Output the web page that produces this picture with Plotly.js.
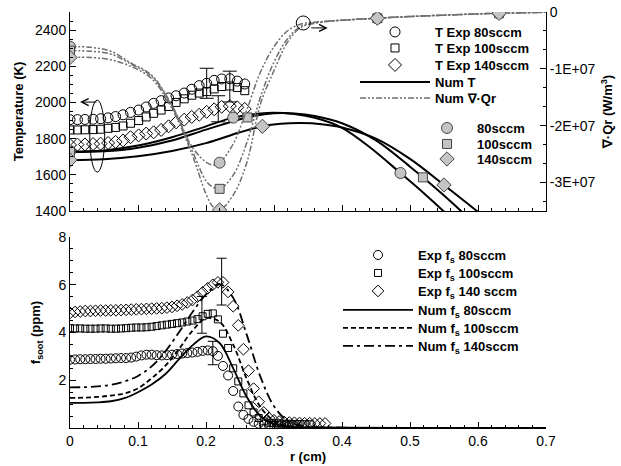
<!DOCTYPE html>
<html><head><meta charset="utf-8">
<script src="https://cdn.plot.ly/plotly-3.0.1.min.js"></script>
<style>html,body{margin:0;padding:0;background:#fff}#chart{width:621px;height:466px}</style>
</head><body><div id="chart"></div>
<script>
// ---------- Top panel: experimental temperature ----------
const rTexp = [0,0.011,0.022,0.034,0.045,0.056,0.067,0.078,0.089,0.101,0.112,0.123,0.134,0.145,0.156,0.168,0.179,0.190,0.201,0.212,0.223,0.235,0.246,0.257];
const tExp80  = [1905,1905,1906,1907,1910,1915,1922,1932,1945,1958,1975,1995,2010,2025,2037,2052,2073,2093,2106,2122,2130,2131,2118,2102];
const tExp100 = [1848,1848,1849,1850,1852,1857,1862,1870,1885,1900,1920,1940,1958,1978,2000,2020,2040,2052,2060,2075,2088,2091,2083,2065];
const tExp140 = [1765,1767,1768,1770,1772,1776,1782,1790,1808,1818,1828,1835,1848,1868,1890,1905,1920,1932,1948,1962,1976,1980,1973,1964];
const tErrR = [0.201,0.218,0.235];
const tErrV = [2106,1965,2088];
const tErrE = [83,72,85];

// ---------- Top panel: numerical temperature ----------
const rNumT80  = [0,0.05,0.1,0.15,0.2,0.24,0.28,0.3,0.33,0.36,0.4,0.44,0.486,0.52,0.549,0.6];
const numT80   = [1728,1735,1762,1808,1868,1916,1939,1943,1936,1915,1860,1755,1610,1500,1400,1215];
const rNumT100 = [0,0.05,0.1,0.15,0.2,0.261,0.3,0.33,0.36,0.4,0.45,0.5,0.519,0.55,0.58,0.62];
const numT100  = [1726,1730,1750,1790,1850,1917,1940,1939,1925,1885,1790,1645,1586,1485,1383,1245];
const rNumT140 = [0,0.05,0.1,0.15,0.2,0.25,0.283,0.31,0.34,0.37,0.4,0.45,0.5,0.55,0.6,0.65];
const numT140  = [1682,1686,1703,1732,1775,1835,1868,1882,1886,1880,1862,1800,1688,1544,1395,1245];

// ---------- Top panel: numerical divergence of radiative flux ----------
const rQr = [0,0.03,0.06,0.09,0.12,0.15,0.18,0.2,0.21,0.22,0.24,0.26,0.28,0.3,0.32,0.34,0.37,0.4,0.45,0.5,0.55,0.6,0.63,0.7];
const qr80  = [-6.1e6,-6.2e6,-6.9e6,-9.0e6,-1.11e7,-1.64e7,-2.38e7,-2.64e7,-2.69e7,-2.65e7,-2.32e7,-1.72e7,-1.06e7,-6.1e6,-3.3e6,-2.1e6,-1.7e6,-1.45e6,-1.1e6,-8.0e5,-5.5e5,-3.3e5,-2.3e5,-5e4];
const qr100 = [-6.8e6,-6.9e6,-7.4e6,-9.2e6,-1.13e7,-1.66e7,-2.45e7,-2.97e7,-3.08e7,-3.11e7,-2.87e7,-2.3e7,-1.5e7,-8.8e6,-4.7e6,-2.5e6,-1.75e6,-1.45e6,-1.1e6,-8.0e5,-5.5e5,-3.3e5,-2.3e5,-5e4];
const qr140 = [-8.0e6,-8.0e6,-8.4e6,-9.6e6,-1.17e7,-1.7e7,-2.52e7,-3.2e7,-3.42e7,-3.48e7,-3.22e7,-2.65e7,-1.62e7,-1.03e7,-5.3e6,-2.7e6,-1.8e6,-1.45e6,-1.1e6,-8.0e5,-5.5e5,-3.3e5,-2.3e5,-5e4];
// identification markers (grey)
const rQrMk = [0,0.22,0.452,0.631];
const qrMk80  = [-6.1e6,-2.65e7,-1.1e6,-2.3e5];
const qrMk100 = [-6.8e6,-3.11e7,-1.1e6,-2.3e5];
const qrMk140 = [-8.0e6,-3.48e7,-1.1e6,-2.3e5];
const rTMk80  = [0,0.24,0.486];   const tMk80  = [1728,1916,1610];
const rTMk100 = [0,0.261,0.519];  const tMk100 = [1726,1917,1586];
const rTMk140 = [0,0.283,0.55];   const tMk140 = [1682,1868,1544];

// ---------- Bottom panel: soot volume fraction ----------
const rFs = [0,0.0075,0.015,0.0225,0.03,0.0375,0.045,0.0525,0.06,0.0675,0.075,0.0825,0.09,0.0975,0.105,0.1125,0.12,0.1275,0.135,0.1425,0.15,0.1575,0.165,0.1725,0.18,0.1875,0.195,0.2025,0.21,0.2175,0.225,0.2325,0.24,0.2475,0.255,0.2625,0.27,0.2775,0.285,0.2925,0.3,0.3075,0.315,0.3225,0.33,0.3375,0.345,0.3525,0.36,0.3675,0.375];
const fsExp80  = [2.86,2.87,2.88,2.88,2.89,2.89,2.90,2.90,2.91,2.92,2.93,2.93,2.95,2.99,3.04,3.07,3.07,3.05,3.04,3.05,3.07,3.10,3.12,3.14,3.16,3.19,3.23,3.25,3.22,3.02,2.60,2.20,1.55,0.90,0.55,0.38,0.26,0.18,0.14,0.12,0.10,0.10,0.09,0.09,0.08];
const fsExp100 = [4.18,4.17,4.17,4.16,4.16,4.16,4.17,4.17,4.16,4.16,4.17,4.18,4.20,4.21,4.21,4.22,4.24,4.27,4.30,4.33,4.36,4.39,4.42,4.46,4.50,4.56,4.68,4.78,4.80,4.55,3.95,3.35,2.50,1.95,1.45,0.95,0.65,0.42,0.28,0.22,0.20,0.19,0.18,0.18,0.17,0.17,0.16,0.16];
const fsExp140 = [4.82,4.86,4.88,4.90,4.90,4.91,4.92,4.92,4.93,4.93,4.94,4.95,4.96,4.97,4.98,4.99,5.00,5.01,5.02,5.04,5.07,5.12,5.18,5.26,5.36,5.50,5.68,5.85,6.00,6.10,6.10,5.70,5.10,4.30,3.30,2.40,1.65,1.10,0.65,0.42,0.32,0.27,0.25,0.23,0.22,0.21,0.20,0.20,0.19,0.19,0.19];
const fsErrR = [0.194,0.21,0.223];
const fsErrV = [4.74,3.14,6.13];
const fsErrE = [0.77,0.49,0.98];
const rFsNum = [0,0.02,0.04,0.06,0.08,0.1,0.12,0.14,0.16,0.18,0.2,0.22,0.24,0.26,0.28,0.3,0.32,0.34,0.36,0.4,0.5,0.7];
const fsNum80  = [1.05,1.05,1.07,1.12,1.25,1.50,1.82,2.25,2.87,3.46,3.84,3.56,2.50,1.30,0.49,0.17,0.07,0.03,0.02,0.01,0,0];
const fsNum100 = [1.26,1.27,1.30,1.36,1.45,1.66,2.08,2.60,3.30,4.07,4.60,4.45,3.49,2.05,0.88,0.30,0.09,0.03,0.02,0.01,0,0];
const fsNum140 = [1.70,1.71,1.74,1.81,1.95,2.18,2.58,3.20,4.00,4.85,5.60,6.03,5.45,3.90,2.15,0.91,0.30,0.10,0.04,0.01,0,0];

// ---------- text ----------
const legendTop = ['T Exp 80sccm','T Exp 100sccm','T Exp 140sccm','Num T','Num ∇·Qr'];
const legendGrey = ['80sccm','100sccm','140sccm'];
const legendBot = ['Exp f<sub>s</sub> 80sccm','Exp f<sub>s</sub> 100sccm','Exp f<sub>s</sub> 140 sccm','Num f<sub>s</sub> 80sccm','Num f<sub>s</sub> 100sccm','Num f<sub>s</sub> 140sccm'];
const yTicksR = [0,-1e7,-2e7,-3e7];
const yTicksRText = ['0','-1E+07','-2E+07','-3E+07'];

// ---------- geometry helpers (pixel -> paper) ----------
const PL=70, PR=546, PT=12, PB=428;
const pxX = v => (v-PL)/(PR-PL);
const pxY = v => (PB-v)/(PB-PT);
const FONT = 'Liberation Sans, Arial, Helvetica, sans-serif';
const GREY = '#6e6e6e';
const GFILL = '#c4c4c4';

const traces = [];
const qrDash = '6px,2px,2px,2px,2px,2px';
[[qr80,true],[qr100,false],[qr140,false]].forEach(([v,show]) => traces.push({
  x:rQr, y:v, xaxis:'x', yaxis:'y2', mode:'lines', line:{color:GREY,width:1.5,dash:qrDash,shape:'spline'},
  name:legendTop[4], showlegend:show, legend:'legend5'}));
[[rNumT80,numT80,true],[rNumT100,numT100,false],[rNumT140,numT140,false]].forEach(([r,v,show]) => traces.push({
  x:r, y:v, xaxis:'x', yaxis:'y', mode:'lines', line:{color:'#000',width:2,shape:'spline'},
  name:legendTop[3], showlegend:show, legend:'legend4'}));
const openMk = (sym,size) => ({symbol:sym, size:size, color:'#000', line:{width:1,color:'#000'}});
traces.push({x:rTexp,y:tExp80,xaxis:'x',yaxis:'y',mode:'markers',marker:openMk('circle-open',10),name:legendTop[0],legend:'legend'});
traces.push({x:rTexp,y:tExp100,xaxis:'x',yaxis:'y',mode:'markers',marker:openMk('square-open',8),name:legendTop[1],legend:'legend2'});
traces.push({x:rTexp,y:tExp140,xaxis:'x',yaxis:'y',mode:'markers',marker:openMk('diamond-open',10),name:legendTop[2],legend:'legend3'});
traces.push({x:tErrR,y:tErrV,xaxis:'x',yaxis:'y',mode:'markers',marker:{opacity:0,size:2},showlegend:false,
  error_y:{type:'data',array:tErrE,visible:true,color:'#000',thickness:1,width:7}});
const greyMk = (sym,size) => ({symbol:sym,size:size,color:GFILL,line:{width:1,color:'#444'}});
[[rTMk80,tMk80,'circle',11],[rTMk100,tMk100,'square',9],[rTMk140,tMk140,'diamond',11]].forEach(([r,v,s,z]) => traces.push({
  x:r,y:v,xaxis:'x',yaxis:'y',mode:'markers',marker:greyMk(s,z),showlegend:false}));
[[qrMk80,'circle',11,'legend6',0],[qrMk100,'square',9,'legend7',1],[qrMk140,'diamond',11,'legend8',2]].forEach(([v,s,z,lg,i]) => traces.push({
  x:rQrMk,y:v,xaxis:'x',yaxis:'y2',mode:'markers',marker:greyMk(s,z),name:legendGrey[i],legend:lg}));

// bottom panel
traces.push({x:rFsNum,y:fsNum80,xaxis:'x2',yaxis:'y3',mode:'lines',line:{color:'#000',width:1.8,shape:'spline'},name:legendBot[3],legend:'legend12'});
traces.push({x:rFsNum,y:fsNum100,xaxis:'x2',yaxis:'y3',mode:'lines',line:{color:'#000',width:1.8,dash:'5px,3px',shape:'spline'},name:legendBot[4],legend:'legend13'});
traces.push({x:rFsNum,y:fsNum140,xaxis:'x2',yaxis:'y3',mode:'lines',line:{color:'#000',width:1.8,dash:'10px,4px,3px,4px',shape:'spline'},name:legendBot[5],legend:'legend14'});
traces.push({x:rFs.slice(0,fsExp80.length),y:fsExp80,xaxis:'x2',yaxis:'y3',mode:'markers',marker:openMk('circle-open',9),name:legendBot[0],legend:'legend9'});
traces.push({x:rFs.slice(0,fsExp100.length),y:fsExp100,xaxis:'x2',yaxis:'y3',mode:'markers',marker:openMk('square-open',7),name:legendBot[1],legend:'legend10'});
traces.push({x:rFs.slice(0,fsExp140.length),y:fsExp140,xaxis:'x2',yaxis:'y3',mode:'markers',marker:openMk('diamond-open',9),name:legendBot[2],legend:'legend11'});
traces.push({x:fsErrR,y:fsErrV,xaxis:'x2',yaxis:'y3',mode:'markers',marker:{opacity:0,size:2},showlegend:false,
  error_y:{type:'data',array:fsErrE,visible:true,color:'#000',thickness:1,width:5}});

const tickFont = {family:FONT,size:14,color:'#000'};
const titleFont = {family:FONT,size:13,color:'#000',weight:'bold'};
const axBase = {showline:true,linecolor:'#000',linewidth:1,ticks:'inside',ticklen:6,tickwidth:1,tickcolor:'#000',
  showgrid:false,zeroline:false,tickfont:tickFont};
const minor = (d) => ({dtick:d,ticks:'inside',ticklen:3,tickwidth:1,tickcolor:'#000',showgrid:false});

const legFont = {family:FONT,size:13,color:'#000',weight:'bold'};
const leg = (cx,cy,iw) => ({x:pxX(cx),y:pxY(cy),xanchor:'left',yanchor:'middle',xref:'paper',yref:'paper',
  bgcolor:'rgba(0,0,0,0)',borderwidth:0,font:legFont,itemwidth:iw,tracegroupgap:0,itemclick:false});

const layout = {
  width:621,height:466,margin:{l:PL,r:621-PR,t:PT,b:466-PB},paper_bgcolor:'#fff',plot_bgcolor:'rgba(0,0,0,0)',
  font:{family:FONT,color:'#000'},
  xaxis:Object.assign({},axBase,{domain:[0,1],range:[0,0.7],anchor:'y',dtick:0.1,tick0:0,showticklabels:false,minor:minor(0.02)}),
  yaxis:Object.assign({},axBase,{domain:[pxY(211),1],range:[1400,2500],anchor:'x',dtick:200,tick0:1400,minor:minor(50),
    title:{text:'Temperature (K)',font:titleFont,standoff:8}}),
  yaxis2:Object.assign({},axBase,{overlaying:'y',side:'right',anchor:'x',range:[-3.5e7,0],tickmode:'array',tickvals:yTicksR,ticktext:yTicksRText,
    minor:{tickmode:'linear',tick0:0,dtick:1e7/3,ticks:'inside',ticklen:3,tickwidth:1,tickcolor:'#000'},
    title:{text:'∇·Qr (W/m<sup>3</sup>)',font:titleFont,standoff:8}}),
  xaxis2:Object.assign({},axBase,{domain:[0,1],range:[0,0.7],anchor:'y3',dtick:0.1,tick0:0,minor:minor(0.02),
    title:{text:'r (cm)',font:titleFont,standoff:4}}),
  yaxis3:Object.assign({},axBase,{domain:[0,pxY(237)],range:[0,8],anchor:'x2',tickmode:'array',tickvals:[2,4,6,8],minor:minor(0.5),
    title:{text:'f<sub>soot</sub> (ppm)',font:titleFont,standoff:14}}),
  legend:leg(355,32,70), legend2:leg(355,48,70), legend3:leg(355,65,70), legend4:leg(355,82,70), legend5:leg(355,98,70),
  legend6:leg(417,128,50), legend7:leg(417,144,50), legend8:leg(417,159,50),
  legend9:leg(338,255,70), legend10:leg(338,273,70), legend11:leg(338,291,70),
  legend12:leg(338,310,70), legend13:leg(338,328,70), legend14:leg(338,346,70),
  shapes:[
    {type:'circle',xref:'x',yref:'y',x0:0.029,x1:0.051,y0:1615,y1:2013,line:{color:'#000',width:1}},
    {type:'circle',xref:'x',yref:'y2',xsizemode:'pixel',ysizemode:'pixel',xanchor:0.343,yanchor:-1.93e6,x0:-7,x1:7,y0:-7,y1:7,line:{color:'#000',width:1}}
  ],
  annotations:[
    {xref:'x',yref:'y',x:0.0147,y:2002,ax:18,ay:0,text:'',showarrow:true,arrowhead:5,arrowsize:1.4,arrowwidth:1,arrowcolor:'#000'},
    {xref:'x',yref:'y2',x:0.379,y:-2.8e6,ax:-18,ay:0,text:'',showarrow:true,arrowhead:5,arrowsize:1.4,arrowwidth:1,arrowcolor:'#000'}
  ]
};
Plotly.newPlot('chart',traces,layout,{displayModeBar:false,staticPlot:true});
</script></body></html>
